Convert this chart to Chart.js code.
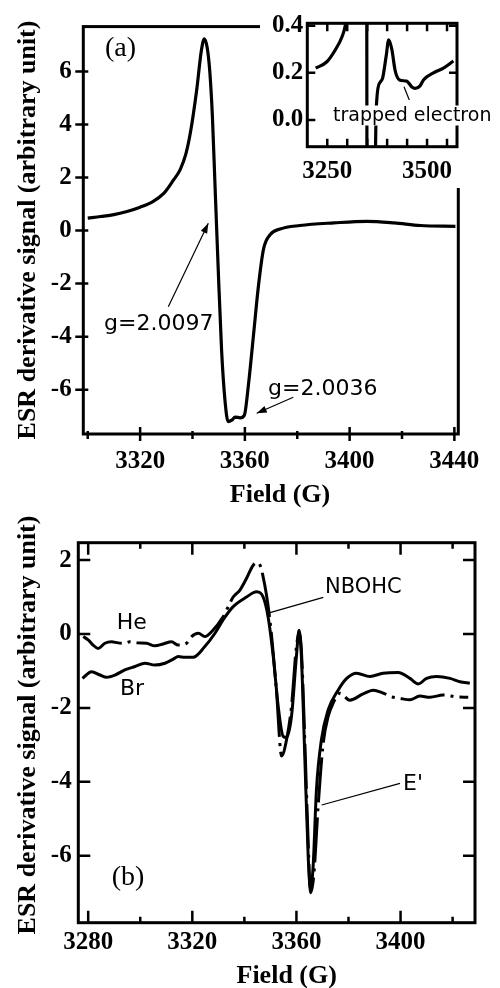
<!DOCTYPE html>
<html>
<head>
<meta charset="utf-8">
<script src="https://cdn.jsdelivr.net/npm/chart.js@4"></script>
<style>
    html, body { margin: 0; padding: 0; background: #fff; }
    body { width: 500px; height: 988px; position: relative; overflow: hidden; }
    canvas { position: absolute; }
</style>
</head>
<body>
<canvas id="chartA" width="500" height="520" style="left:0;top:0"></canvas>
<canvas id="chartInset" width="240" height="188" style="left:260px;top:0"></canvas>
<canvas id="chartB" width="500" height="488" style="left:0;top:500px"></canvas>
<script>
// panel (a): ESR spectrum
const fieldA = [3300, 3305, 3310, 3315, 3320, 3325, 3329, 3332.7, 3335.3, 3337.5, 3339.3, 3341.6, 3343.4, 3344.5, 3345.6, 3346.6, 3347.6, 3348.6, 3349.8, 3351.1, 3352.4, 3353.6, 3355, 3356.3, 3358.2, 3359.8, 3361.4, 3363.3, 3365.2, 3367.1, 3369.7, 3373.5, 3381, 3394, 3406.6, 3417, 3427, 3440.4];
const signalA = [0.47, 0.53, 0.6, 0.72, 0.88, 1.1, 1.4, 1.9, 2.3, 2.9, 3.75, 5.3, 6.8, 7.23, 6.9, 6.0, 4.3, 1.7, -1.4, -4.5, -6.4, -7.2, -7.15, -7.03, -7.06, -6.96, -5.78, -3.93, -2.07, -0.71, -0.15, 0.06, 0.19, 0.29, 0.35, 0.29, 0.19, 0.16];

// inset: wide scan
const fieldInset = [3221, 3249, 3270, 3287, 3295, 3300, 3320, 3335, 3340, 3344.5, 3349, 3353.6, 3360, 3366, 3370, 3374, 3382.5, 3389, 3397.5, 3404, 3411.7, 3420, 3431, 3449, 3462, 3470, 3482.5, 3491, 3516, 3541, 3566];
const signalInset = [0.22, 0.247, 0.297, 0.353, 0.40, 0.47, 0.88, 2.3, 4.0, 7.23, 0.5, -7.2, -6.9, -2.0, -0.3, 0.085, 0.16, 0.18, 0.27, 0.34, 0.30, 0.21, 0.17, 0.165, 0.14, 0.134, 0.145, 0.17, 0.2, 0.22, 0.25];

// panel (b): Br (solid) and He (dash-dot)
const fieldBr = [3277.8, 3281.3, 3284.5, 3287.1, 3290.3, 3294.1, 3298, 3301.8, 3305.6, 3309.5, 3312.7, 3314.6, 3317.1, 3320.3, 3324.8, 3328.7, 3332, 3335.7, 3340.8, 3344.7, 3347.2, 3349.1, 3351.1, 3353, 3354.9, 3356.2, 3358.1, 3360, 3361, 3361.9, 3363.2, 3364.5, 3365.4, 3366.4, 3367.7, 3369.6, 3372.2, 3376, 3379.3, 3383.1, 3388.2, 3393.3, 3399.1, 3403.6, 3406.8, 3410, 3413.8, 3419, 3422.8, 3426.6];
const signalBr = [-1.2, -1.02, -1.11, -1.17, -1.11, -0.97, -0.88, -0.79, -0.84, -0.79, -0.68, -0.61, -0.63, -0.63, -0.34, 0.02, 0.4, 0.74, 1.0, 1.14, 1.0, 0.47, -0.61, -1.96, -2.77, -2.8, -2.23, -0.6, 0.1, -0.6, -3.3, -6.0, -6.9, -6.3, -4.2, -2.86, -2.05, -1.52, -1.2, -1.06, -1.15, -1.06, -1.04, -1.2, -1.35, -1.2, -1.15, -1.2, -1.29, -1.33];
const fieldHe = [3278.1, 3280, 3281.9, 3283.8, 3286.4, 3289, 3291.5, 3294.1, 3296, 3299, 3302.4, 3305.6, 3308.8, 3312, 3314.6, 3317.8, 3319.7, 3322.3, 3324.8, 3327.4, 3331.9, 3335.7, 3338.3, 3340.8, 3343.4, 3345.3, 3347.2, 3349.8, 3352.3, 3354.3, 3356.2, 3358.1, 3360, 3361, 3361.9, 3363.2, 3364.5, 3365.4, 3366.7, 3368.3, 3370.3, 3372.2, 3374.1, 3376.7, 3380.5, 3385.6, 3389.5, 3393.3, 3396.6, 3399.7, 3403.6, 3407.4, 3411.3, 3416.4, 3421.5, 3426];
const signalHe = [-0.07, -0.16, -0.3, -0.39, -0.25, -0.21, -0.24, -0.25, -0.21, -0.24, -0.25, -0.32, -0.27, -0.21, -0.3, -0.25, -0.07, 0.02, -0.07, 0.06, 0.47, 1.0, 1.19, 1.5, 1.86, 1.93, 1.55, 0.38, -1.51, -3.3, -2.86, -1.96, -0.34, 0.02, -0.43, -2.86, -5.6, -7.0, -6.5, -4.7, -2.95, -2.23, -1.87, -1.6, -1.79, -1.62, -1.52, -1.6, -1.7, -1.74, -1.78, -1.68, -1.71, -1.65, -1.7, -1.71];

// tick values
const labelsAx = [3320, 3360, 3400, 3440];
const minorAx = [3300, 3340, 3380, 3420];
const labelsAy = [-6, -4, -2, 0, 2, 4, 6];
const labelsInsetX = [3250, 3500];
const stepsInsetX = [3250, 3300, 3350, 3400, 3450, 3500, 3550];
const labelsInsetY = [0, 0.2, 0.4];
const labelsBx = [3280, 3320, 3360, 3400];
const minorBx = [3300, 3340, 3380, 3420];
const labelsBy = [-6, -4, -2, 0, 2];

const SERIF = '"Liberation Serif", "Times New Roman", serif';
const SANS = '"DejaVu Sans", Verdana, sans-serif';
const tickFont = { family: SERIF, size: 25, weight: 'bold' };
const yTitle = 'ESR derivative signal (arbitrary unit)';

const zip = (xs, ys) => xs.map((x, i) => ({ x: x, y: ys[i] }));

// frame, inward tick marks and annotations
function decor(cfg) {
    return {
        id: 'decor',
        beforeDraw(chart) {
            if (!cfg.background) return;
            const c = chart.ctx;
            c.save();
            c.fillStyle = cfg.background;
            c.fillRect(0, 0, chart.width, chart.height);
            c.restore();
        },
        afterDraw(chart) {
            const c = chart.ctx, a = chart.chartArea;
            c.save();
            c.strokeStyle = '#000';
            c.fillStyle = '#000';
            (cfg.marks || []).forEach(m => {
                const sc = chart.scales[m.axis];
                const out = m.out || 0;
                c.lineWidth = 2.5;
                c.beginPath();
                m.values.forEach(v => {
                    const p = sc.getPixelForValue(v);
                    m.sides.forEach(s => {
                        if (s === 'bottom') { c.moveTo(p, a.bottom + out); c.lineTo(p, a.bottom - m.len); }
                        if (s === 'top') { c.moveTo(p, a.top - out); c.lineTo(p, a.top + m.len); }
                        if (s === 'left') { c.moveTo(a.left - out, p); c.lineTo(a.left + m.len, p); }
                        if (s === 'right') { c.moveTo(a.right + out, p); c.lineTo(a.right - m.len, p); }
                    });
                });
                c.stroke();
            });
            c.lineWidth = 3;
            c.strokeRect(a.left, a.top, a.right - a.left, a.bottom - a.top);

            (cfg.texts || []).forEach(t => {
                c.save();
                c.font = t.font;
                c.textAlign = t.align || 'left';
                c.textBaseline = t.baseline || 'alphabetic';
                c.translate(t.x, t.y);
                if (t.rotate) c.rotate(t.rotate);
                if (t.bg) {
                    const w = c.measureText(t.text).width;
                    c.fillStyle = '#fff';
                    c.fillRect(-2, -t.bg[0], w + 4, t.bg[0] + t.bg[1]);
                    c.fillStyle = '#000';
                }
                c.fillText(t.text, 0, 0);
                c.restore();
            });

            (cfg.lines || []).forEach(l => {
                c.lineWidth = 1.2;
                c.beginPath();
                c.moveTo(l.x1, l.y1);
                c.lineTo(l.x2, l.y2);
                c.stroke();
                if (l.arrow) {
                    const ang = Math.atan2(l.y2 - l.y1, l.x2 - l.x1), L = 10, W = 3.5;
                    const bx = l.x2 - L * Math.cos(ang), by = l.y2 - L * Math.sin(ang);
                    c.beginPath();
                    c.moveTo(l.x2, l.y2);
                    c.lineTo(bx + W * Math.sin(ang), by - W * Math.cos(ang));
                    c.lineTo(bx - W * Math.sin(ang), by + W * Math.cos(ang));
                    c.closePath();
                    c.fill();
                }
            });
            c.restore();
        }
    };
}

function makeChart(id, o) {
    return new Chart(document.getElementById(id), {
        type: 'line',
        data: { datasets: o.datasets },
        options: {
            responsive: false,
            animation: false,
            events: [],
            layout: { padding: o.padding },
            plugins: { legend: { display: false }, tooltip: { enabled: false } },
            elements: {
                point: { radius: 0 },
                line: { borderColor: '#000', borderWidth: 3.2, cubicInterpolationMode: 'monotone', fill: false }
            },
            scales: {
                x: {
                    type: 'linear', min: o.x.min, max: o.x.max,
                    afterFit: s => { s.height = o.x.size; },
                    grid: { display: false, drawTicks: false },
                    border: { display: false },
                    ticks: {
                        stepSize: o.x.step, includeBounds: false, autoSkip: false, maxRotation: 0,
                        padding: o.x.pad, color: '#000', font: tickFont,
                        callback: v => o.x.labels.includes(v) ? String(v) : ''
                    }
                },
                y: {
                    type: 'linear', min: o.y.min, max: o.y.max,
                    afterFit: s => { s.width = o.y.size; },
                    grid: { display: false, drawTicks: false },
                    border: { display: false },
                    ticks: {
                        stepSize: o.y.step, includeBounds: false, autoSkip: false,
                        padding: o.y.pad, color: '#000', font: tickFont,
                        callback: o.y.format
                    }
                }
            }
        },
        plugins: [decor(o.decor)]
    });
}

makeChart('chartA', {
    datasets: [{ data: zip(fieldA, signalA) }],
    padding: { left: 0, top: 21, right: 41.7, bottom: 0 },
    x: { min: 3298.3, max: 3441.5, step: 20, labels: labelsAx, size: 86, pad: 13 },
    y: { min: -7.67, max: 7.69, step: 2, size: 83.3, pad: 11.6,
         format: v => labelsAy.includes(v) ? String(v) : '' },
    decor: {
        marks: [
            { axis: 'x', values: labelsAx, sides: ['bottom'], len: 7, out: 7 },
            { axis: 'x', values: minorAx, sides: ['bottom'], len: 3, out: 5 },
            { axis: 'y', values: labelsAy, sides: ['left'], len: 5, out: 8 }
        ],
        texts: [
            { text: '(a)', x: 105, y: 49, baseline: 'middle', font: '28px ' + SERIF },
            { text: 'g=2.0097', x: 104, y: 330, font: '22px ' + SANS },
            { text: 'g=2.0036', x: 268, y: 395, font: '22px ' + SANS },
            { text: yTitle, x: 35, y: 230, align: 'center', rotate: -Math.PI / 2, font: 'bold 26px ' + SERIF },
            { text: 'Field (G)', x: 280, y: 502, align: 'center', font: 'bold 26px ' + SERIF }
        ],
        lines: [
            { x1: 168.3, y1: 306.7, x2: 208.3, y2: 223.3, arrow: true },
            { x1: 293.3, y1: 397.3, x2: 256.7, y2: 413.3, arrow: true }
        ]
    }
});

makeChart('chartInset', {
    datasets: [{ data: zip(fieldInset, signalInset) }],
    padding: { left: 0, top: 23.3, right: 43, bottom: 0 },
    x: { min: 3200, max: 3575, step: 50, labels: labelsInsetX, size: 41.3, pad: 10 },
    y: { min: -0.113, max: 0.41, step: 0.2, size: 47.3, pad: 4,
         format: v => v.toFixed(1) },
    decor: {
        background: '#fff',
        marks: [
            { axis: 'x', values: stepsInsetX, sides: ['bottom', 'top'], len: 8 },
            { axis: 'y', values: labelsInsetY, sides: ['left', 'right'], len: 8 }
        ],
        texts: [
            { text: 'trapped electron', x: 73, y: 120.5, font: '19px ' + SANS, bg: [15, 5] }
        ],
        lines: [
            { x1: 144, y1: 86.7, x2: 149.3, y2: 100 }
        ]
    }
});

makeChart('chartB', {
    datasets: [
        { data: zip(fieldHe, signalHe), borderDash: [45, 6, 3, 6], borderWidth: 3 },
        { data: zip(fieldBr, signalBr), borderWidth: 3 }
    ],
    padding: { left: 0, top: 42.7, right: 25, bottom: 0 },
    x: { min: 3276.2, max: 3428.6, step: 20, labels: labelsBx, size: 65.3, pad: 5.3 },
    y: { min: -7.81, max: 2.47, step: 2, size: 78.3, pad: 6.6,
         format: v => labelsBy.includes(v) ? String(v) : '' },
    decor: {
        marks: [
            { axis: 'x', values: labelsBx, sides: ['bottom', 'top'], len: 12 },
            { axis: 'x', values: minorBx, sides: ['bottom', 'top'], len: 6 },
            { axis: 'y', values: labelsBy, sides: ['left', 'right'], len: 12 }
        ],
        texts: [
            { text: 'He', x: 116.7, y: 129.3, font: '22px ' + SANS },
            { text: 'Br', x: 120, y: 195, font: '22px ' + SANS },
            { text: 'NBOHC', x: 325, y: 93.3, font: '21px ' + SANS },
            { text: "E'", x: 403, y: 290, font: '22px ' + SANS },
            { text: '(b)', x: 111.7, y: 378, baseline: 'middle', font: '28px ' + SERIF },
            { text: yTitle, x: 35, y: 225, align: 'center', rotate: -Math.PI / 2, font: 'bold 26px ' + SERIF },
            { text: 'Field (G)', x: 286.7, y: 483, align: 'center', font: 'bold 26px ' + SERIF }
        ],
        lines: [
            { x1: 323.3, y1: 97.3, x2: 270, y2: 112.7 },
            { x1: 400, y1: 283.3, x2: 321.7, y2: 305 }
        ]
    }
});
</script>
</body>
</html>
